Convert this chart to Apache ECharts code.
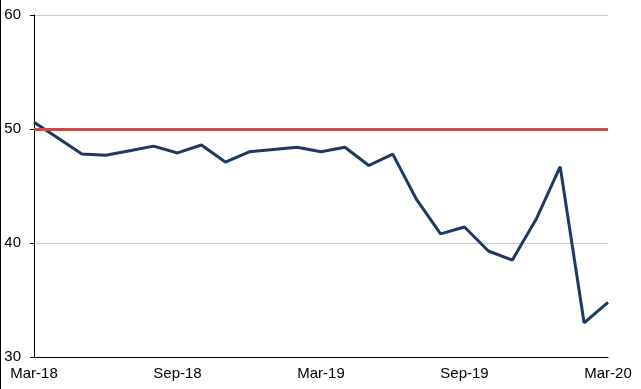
<!DOCTYPE html>
<html><head><meta charset="utf-8">
<script src="https://cdn.jsdelivr.net/npm/echarts@6/dist/echarts.min.js"></script>
<style>html,body{margin:0;padding:0;background:#fff}#c{width:641px;height:389px}</style>
</head><body><div id="c"></div>
<script>
var categories = ['Mar-18','Apr-18','May-18','Jun-18','Jul-18','Aug-18','Sep-18','Oct-18','Nov-18','Dec-18','Jan-19','Feb-19','Mar-19','Apr-19','May-19','Jun-19','Jul-19','Aug-19','Sep-19','Oct-19','Nov-19','Dec-19','Jan-20','Feb-20','Mar-20'];
var values = [50.6,49.2,47.8,47.7,48.1,48.5,47.9,48.6,47.1,48.0,48.2,48.4,48.0,48.4,46.8,47.8,43.8,40.8,41.4,39.3,38.5,42.1,46.7,33.0,34.8];
var threshold = 50;
var yTicks = [30,40,50,60];

var chart = echarts.init(document.getElementById('c'), null, {renderer:'canvas'});
chart.setOption({
  animation:false,
  grid:{left:34,right:33,top:15,bottom:32,containLabel:false},
  xAxis:{type:'category',data:categories,boundaryGap:false,
    axisLine:{lineStyle:{color:'#000',width:1}},
    axisTick:{show:false},
    axisLabel:{interval:5,color:'#000',fontFamily:'Liberation Sans, Arial',fontSize:15,margin:9,
      showMinLabel:true,showMaxLabel:true},
    splitLine:{show:false}},
  yAxis:{type:'value',min:yTicks[0],max:yTicks[yTicks.length-1],interval:10,
    axisLine:{show:true,lineStyle:{color:'#000',width:1}},
    axisTick:{show:true,length:4,lineStyle:{color:'#000'}},
    axisLabel:{color:'#000',fontFamily:'Liberation Sans, Arial',fontSize:15,margin:13},
    splitLine:{show:true,lineStyle:{color:'#c8c8c8',width:1}}},
  graphic:[{type:'line',shape:{x1:0.5,y1:0,x2:0.5,y2:389},style:{stroke:'#000',lineWidth:1}}],
  series:[{type:'line',data:values,symbol:'none',
    lineStyle:{color:'#1d3861',width:3},
    markLine:{silent:true,symbol:['none','none'],label:{show:false},
      lineStyle:{color:'#c0504d',width:3,type:'solid'},
      data:[{yAxis:threshold}]},
    z:3}]
});
</script></body></html>
